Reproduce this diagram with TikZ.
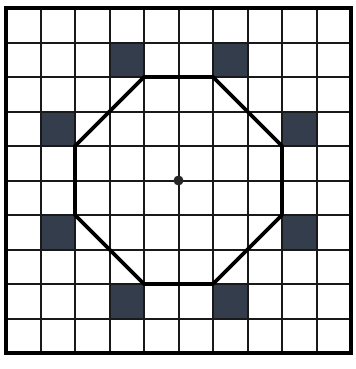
\documentclass[tikz,border=0pt]{standalone}
\definecolor{cellfill}{HTML}{333D4B}
\tikzset{
  gridline/.style={line width=2bp, black!90},
  border/.style={line width=3.2bp, black},
  octline/.style={line width=3.6bp, black, line join=miter},
  shaded/.style={fill=cellfill, draw=black, line width=2bp},
  centredot/.style={fill=black!85, draw=none}
}
\begin{document}
\begin{tikzpicture}[x=1bp,y=-1bp]
\useasboundingbox[fill=white] (0,0) rectangle (356,369);
\begin{scope}[shift={(6,8)}, x=34.5bp, y=-34.5bp]
  % shaded cells
  \foreach \c/\r in {3/1,6/1,1/3,8/3,1/6,8/6,3/8,6/8}
    \fill[cellfill] (\c,\r) rectangle ++(1,1);
  % grid
  \foreach \i in {1,...,9} {
    \draw[gridline] (\i,0) -- (\i,10);
    \draw[gridline] (0,\i) -- (10,\i);
  }
  \draw[border] (0,0) rectangle (10,10);
  % octagon
  \coordinate (p1) at (4,2);
  \coordinate (p2) at (6,2);
  \coordinate (p3) at (8,4);
  \coordinate (p4) at (8,6);
  \coordinate (p5) at (6,8);
  \coordinate (p6) at (4,8);
  \coordinate (p7) at (2,6);
  \coordinate (p8) at (2,4);
  \draw[octline] (p1) -- (p2) -- (p3) -- (p4) -- (p5) -- (p6) -- (p7) -- (p8) -- cycle;
  \coordinate (centre) at (5,5);
  \fill[centredot] (centre) circle[radius=5bp];
\end{scope}
\end{tikzpicture}
\end{document}
